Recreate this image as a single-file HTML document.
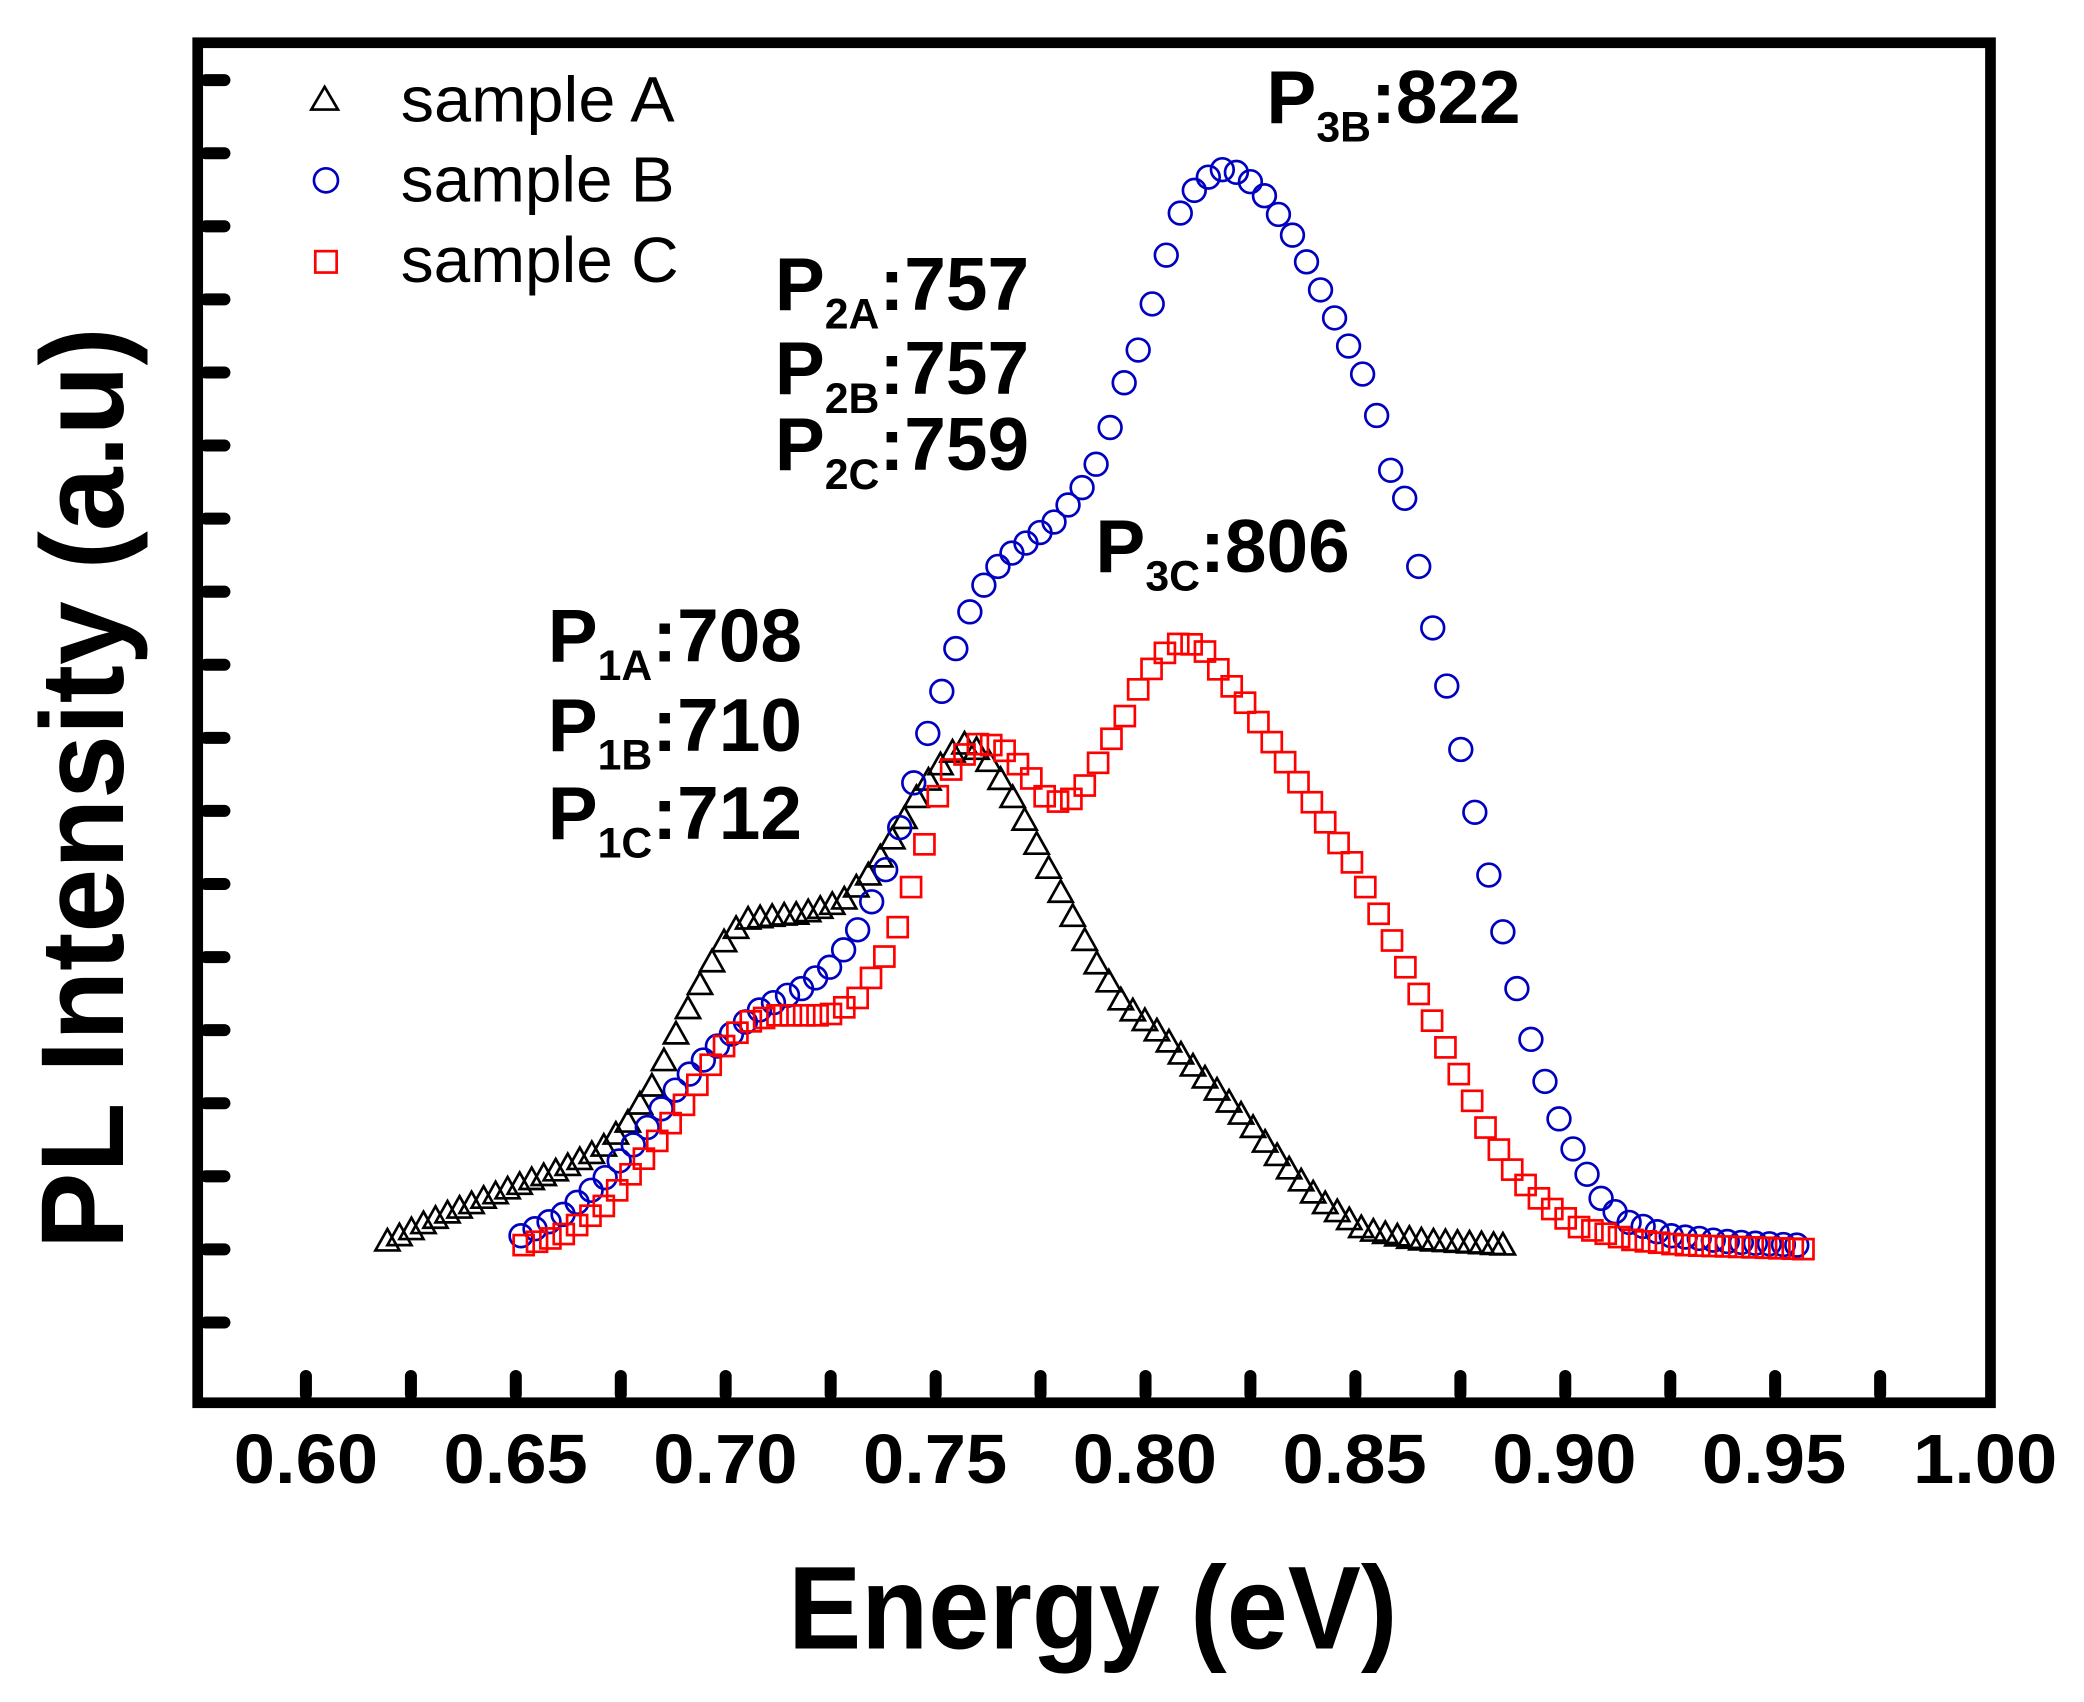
<!DOCTYPE html>
<html><head><meta charset="utf-8"><style>html,body{margin:0;padding:0;background:#fff}svg{display:block}</style></head>
<body>
<svg xmlns="http://www.w3.org/2000/svg" width="2084" height="1702" viewBox="0 0 1560 1274" preserveAspectRatio="none">
<defs>
<marker id="mt" markerUnits="userSpaceOnUse" markerWidth="24" markerHeight="24" refX="12" refY="12" viewBox="0 0 24 24" overflow="visible"><path d="M12,3 L21,19 L3,19 Z" fill="none" stroke="#000" stroke-width="2"/></marker>
<marker id="mc" markerUnits="userSpaceOnUse" markerWidth="24" markerHeight="24" refX="12" refY="12" viewBox="0 0 24 24" overflow="visible"><circle cx="12" cy="12" r="8.5" fill="none" stroke="#0000c0" stroke-width="2"/></marker>
<marker id="ms" markerUnits="userSpaceOnUse" markerWidth="24" markerHeight="24" refX="12" refY="12" viewBox="0 0 24 24" overflow="visible"><rect x="4.5" y="4.5" width="15" height="15" fill="none" stroke="#f00" stroke-width="2"/></marker>
</defs>
<rect width="1560" height="1274" fill="#fff"/>
<g stroke="#000" stroke-width="9" stroke-linecap="round">
<path d="M229,1044V1030M307.6,1044V1030M386.1,1044V1030M464.7,1044V1030M543.2,1044V1030M621.8,1044V1030M700.4,1044V1030M778.9,1044V1030M857.5,1044V1030M936,1044V1030M1014.6,1044V1030M1093.2,1044V1030M1171.7,1044V1030M1250.3,1044V1030M1328.8,1044V1030M1407.4,1044V1030"/>
<path d="M154,60H168M154,114.7H168M154,169.4H168M154,224.1H168M154,278.8H168M154,333.5H168M154,388.2H168M154,442.9H168M154,497.6H168M154,552.3H168M154,607H168M154,661.7H168M154,716.4H168M154,771.1H168M154,825.8H168M154,880.5H168M154,935.2H168M154,989.9H168"/>
</g>
<rect x="148" y="32" width="1342" height="1018" fill="none" stroke="#000" stroke-width="8"/>
<polyline fill="none" stroke="none" marker-start="url(#mt)" marker-mid="url(#mt)" marker-end="url(#mt)" points="290,929 299,925 308,920.5 317,916 326,912 335,908 344,904.4 353,901 362,897 371,893.6 380,890 389,886.6 398,883 407,880 416,876.5 425,872.5 434,868 443,863.5 452,858 461,849 470,840 479,826.5 488,813 497,794 506,774 515,755 524,737 533,720 542,705 551,695 560,688 569,687 578,686 587,685 596,684.4 605,682.5 614,680 623,677 632,673 641,664 650,655 659,641.5 668,628 677,612.75 686,597 695,584 704,572.5 713,563 722,557 731,561 740,570 749,583.5 758,597 767,614 776,632 785,650 794,668 803,686 812,704 821,721.5 830,735 839,748.5 848,756.7 857,764 866,771.7 875,780 884,789 893,798 902,807 911,816 920,825 929,834 938,844 947,855 956,865 965,875 974,884 983,893 992,901 1001,907 1010,913 1019,919 1028,921.6 1037,923.4 1046,925.2 1055,927 1064,928.2 1073,929 1082,929.4 1091,930 1100,930.5 1109,931 1118,931.6 1125,932"/>
<polyline fill="none" stroke="none" marker-start="url(#mc)" marker-mid="url(#mc)" marker-end="url(#mc)" points="390,925 400.5,919.75 411,914.5 421.5,909 432,900 442.5,891 453,881.5 463.5,869 474,857 484.5,844 495,830 505.5,816 516,804 526.5,793.5 537,783 547.5,774 558,765 568.5,756 579,750.5 589.5,745 600,740 610.5,732 621,724 631.5,711 642,696 652.5,675 663,651 673.5,619.5 684,586 694.5,549 705,517.5 715.5,485.5 726,458 736.5,438 747,424 757.5,414 768,406.5 778.5,398.6 789,390.75 799.5,378 810,365 820.5,347.5 831,320 841.5,286.5 852,262 862.5,227.5 873,191 883.5,159.5 894,142.5 904.5,132.6 915,127 925.5,129 936,136 946.5,146.5 957,160.5 967.5,176 978,196 988.5,217 999,238 1009.5,259 1020,280 1030.5,311 1041,352 1051.5,373 1062,424 1072.5,470 1083,513.5 1093.5,561 1104,608 1114.5,655 1125,697.5 1135.5,740 1146,778 1156.5,809.5 1167,837.5 1177.5,860 1188,879 1198.5,897 1209,907 1219.5,915 1230,918 1240.5,922 1251,925 1261.5,926 1272,927 1282.5,928.3 1293,929.3 1303.5,930 1314,930.6 1324.5,931 1335,931.6 1345,932"/>
<polyline fill="none" stroke="none" marker-start="url(#ms)" marker-mid="url(#ms)" marker-end="url(#ms)" points="392,932 402,929.5 412,927 422,923.7 432,917 442,910 452,902.7 462,891 472,879 482,867.3 492,854 502,840.7 512,827 522,812 532,797 542,783 552,773 562,764.5 572,762 582,760 592,760 602,760 612,760 622,759 632,754 642,747 652,732 662,716 672,694 682,664 692,632 702,596 712,576 722,564.75 732,557 742,557.7 752,562 762,572 772,582.7 782,596 792,600 802,598 812,588 822,571 832,553 842,536 852,516 862,500.7 872,488.7 882,482 892,482.3 902,487.7 912,501 922,513.75 932,526 942,540.5 952,555.5 962,570.5 972,585.5 982,600.5 992,615.5 1002,631 1012,645.5 1022,664 1032,684 1042,704 1052,724 1062,744 1072,764 1082,784 1092,804 1102,824 1112,844 1122,860.5 1132,875.5 1142,887 1152,897 1162,905 1172,912 1182,918.5 1192,921 1202,923.5 1212,926 1222,928.1 1232,929.2 1242,930.2 1252,931.2 1262,932 1272,932.4 1282,932.7 1292,933 1302,933.4 1312,933.7 1322,934 1332,934.4 1342,934.7 1350,935"/>
<g font-family="Liberation Sans, sans-serif" font-weight="bold" font-size="52" text-anchor="middle">
<text x="229" y="1110" textLength="108" lengthAdjust="spacingAndGlyphs">0.60</text>
<text x="386" y="1110" textLength="108" lengthAdjust="spacingAndGlyphs">0.65</text>
<text x="543" y="1110" textLength="108" lengthAdjust="spacingAndGlyphs">0.70</text>
<text x="700" y="1110" textLength="108" lengthAdjust="spacingAndGlyphs">0.75</text>
<text x="857" y="1110" textLength="108" lengthAdjust="spacingAndGlyphs">0.80</text>
<text x="1014" y="1110" textLength="108" lengthAdjust="spacingAndGlyphs">0.85</text>
<text x="1171" y="1110" textLength="108" lengthAdjust="spacingAndGlyphs">0.90</text>
<text x="1328" y="1110" textLength="108" lengthAdjust="spacingAndGlyphs">0.95</text>
<text x="1486" y="1110" textLength="108" lengthAdjust="spacingAndGlyphs">1.00</text>
</g>
<text x="590" y="1234" font-family="Liberation Sans, sans-serif" font-weight="bold" font-size="88" textLength="456" lengthAdjust="spacingAndGlyphs">Energy (eV)</text>
<text transform="translate(92,935) rotate(-90)" font-family="Liberation Sans, sans-serif" font-weight="bold" font-size="88" textLength="690" lengthAdjust="spacingAndGlyphs">PL Intensity (a.u)</text>
<g font-family="Liberation Sans, sans-serif" font-size="48">
<polygon points="243,65 253,82 233,82" fill="none" stroke="#000" stroke-width="2"/>
<text x="300" y="91" textLength="205" lengthAdjust="spacingAndGlyphs">sample A</text>
<circle cx="244" cy="135" r="9" fill="none" stroke="#0000c0" stroke-width="2"/>
<text x="300" y="151" textLength="205" lengthAdjust="spacingAndGlyphs">sample B</text>
<rect x="236" y="188" width="16" height="16" fill="none" stroke="#f00" stroke-width="2"/>
<text x="300" y="211" textLength="208" lengthAdjust="spacingAndGlyphs">sample C</text>
</g>
<g font-family="Liberation Sans, sans-serif" font-weight="bold" font-size="56">
<text x="948" y="92">P<tspan font-size="32" dy="14">3B</tspan><tspan dy="-14">:822</tspan></text>
<text x="580" y="232">P<tspan font-size="32" dy="14">2A</tspan><tspan dy="-14">:757</tspan></text>
<text x="580" y="295">P<tspan font-size="32" dy="14">2B</tspan><tspan dy="-14">:757</tspan></text>
<text x="580" y="352">P<tspan font-size="32" dy="14">2C</tspan><tspan dy="-14">:759</tspan></text>
<text x="820" y="428">P<tspan font-size="32" dy="14">3C</tspan><tspan dy="-14">:806</tspan></text>
<text x="410" y="495">P<tspan font-size="32" dy="14">1A</tspan><tspan dy="-14">:708</tspan></text>
<text x="410" y="562">P<tspan font-size="32" dy="14">1B</tspan><tspan dy="-14">:710</tspan></text>
<text x="410" y="628">P<tspan font-size="32" dy="14">1C</tspan><tspan dy="-14">:712</tspan></text>
</g>
</svg>
</body></html>
